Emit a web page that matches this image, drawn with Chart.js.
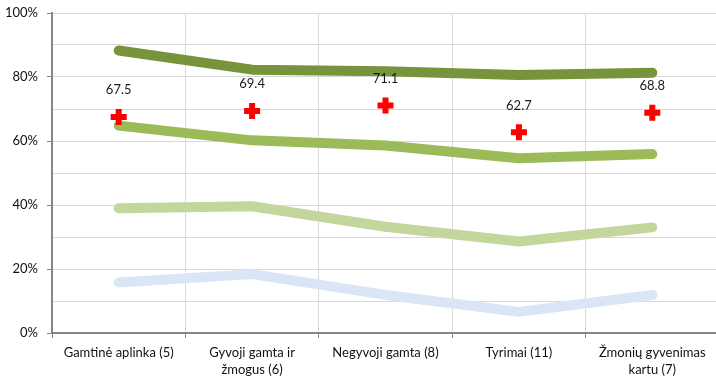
<!DOCTYPE html>
<html>
<head>
<meta charset="utf-8">
<script src="https://cdn.jsdelivr.net/npm/chart.js@4/dist/chart.umd.min.js"></script>
<style>
  html, body { margin: 0; padding: 0; background: #fff; overflow: hidden; }
  #wrap { width: 719px; height: 376px; }
</style>
</head>
<body>
<div id="wrap"><canvas id="c" width="719" height="376"></canvas></div>
<script>
// Topic categories (multi-line labels where the text wraps)
const categories = [
  'Gamtinė aplinka (5)',
  ['Gyvoji gamta ir', 'žmogus (6)'],
  'Negyvoji gamta (8)',
  'Tyrimai (11)',
  ['Žmonių gyvenimas', 'kartu (7)']
];

// Share of pupils reaching each level, %
const levelTop    = [88.3, 82.3, 81.8, 80.6, 81.3];
const levelHigh   = [64.8, 60.2, 58.6, 54.6, 55.9];
const levelMid    = [39.0, 39.6, 33.2, 28.6, 33.0];
const levelLow    = [15.8, 18.4, 11.9,  6.6, 11.9];

// Average score per topic
const averageScore = [67.5, 69.4, 71.1, 62.7, 68.8];

const yTicks = [0, 20, 40, 60, 80, 100];

const FONT = 'Lato, "Liberation Sans", sans-serif';

// Let the plot area use the full canvas: thick strokes and markers
// should not shrink the layout.
Chart.registry.getController('line').prototype.getMaxOverflow = function () { return 0; };

const scoreLabels = {
  id: 'scoreLabels',
  afterDatasetsDraw(chart) {
    const meta = chart.getDatasetMeta(0);
    const ctx = chart.ctx;
    ctx.save();
    ctx.font = '13px ' + FONT;
    ctx.fillStyle = '#1a1a1a';
    ctx.textAlign = 'center';
    ctx.textBaseline = 'middle';
    meta.data.forEach((pt, i) => {
      ctx.fillText(averageScore[i].toFixed(1), pt.x, pt.y - 27);
    });
    ctx.restore();
  }
};

function lineSet(data, color) {
  return {
    type: 'line',
    data: data,
    clip: false,
    borderColor: color,
    backgroundColor: color,
    borderWidth: 10,
    borderCapStyle: 'round',
    borderJoinStyle: 'round',
    pointRadius: 0,
    pointHoverRadius: 0,
    tension: 0,
    fill: false
  };
}

new Chart(document.getElementById('c'), {
  type: 'line',
  data: {
    labels: categories,
    datasets: [
      {
        type: 'line',
        data: averageScore,
        clip: false,
        showLine: false,
        pointStyle: 'cross',
        pointRadius: 8,
        pointHoverRadius: 8,
        pointBorderWidth: 6,
        pointHoverBorderWidth: 6,
        pointBorderColor: '#FF0000',
        pointBackgroundColor: '#FF0000'
      },
      lineSet(levelTop, '#77933C'),
      lineSet(levelHigh, '#9BBB59'),
      lineSet(levelMid, '#C3D69B'),
      lineSet(levelLow, '#DAE6F5')
    ]
  },
  options: {
    responsive: false,
    animation: false,
    events: [],
    layout: { padding: { top: 13, right: 0, left: 0, bottom: 0 } },
    plugins: { legend: { display: false }, tooltip: { enabled: false } },
    scales: {
      x: {
        offset: true,
        grid: {
          offset: true,
          color: '#D9D9D9',
          lineWidth: 1,
          tickColor: '#868686',
          tickLength: 5
        },
        border: { color: '#868686', width: 2 },
        ticks: {
          autoSkip: false,
          maxRotation: 0,
          minRotation: 0,
          padding: 6,
          color: '#111',
          font: { family: FONT, size: 13, lineHeight: 1.3 }
        },
        afterFit(scale) {
          scale.height = 43;
          scale.paddingLeft = 0;
          scale.paddingRight = 0;
        }
      },
      y: {
        min: 0,
        max: 100,
        grid: {
          color: '#D9D9D9',
          lineWidth: 1,
          tickLength: 5,
          tickColor: (c) => (yTicks.includes(c.tick.value) ? '#868686' : 'rgba(0,0,0,0)')
        },
        border: { color: '#868686', width: 2 },
        ticks: {
          stepSize: 10,
          padding: 9,
          color: '#111',
          font: { family: FONT, size: 13 },
          callback: (v) => (yTicks.includes(v) ? v + '%' : '')
        },
        afterFit(scale) {
          scale.width = 52;
          scale.paddingTop = 0;
          scale.paddingBottom = 0;
        }
      }
    }
  },
  plugins: [scoreLabels]
});
</script>
</body>
</html>
